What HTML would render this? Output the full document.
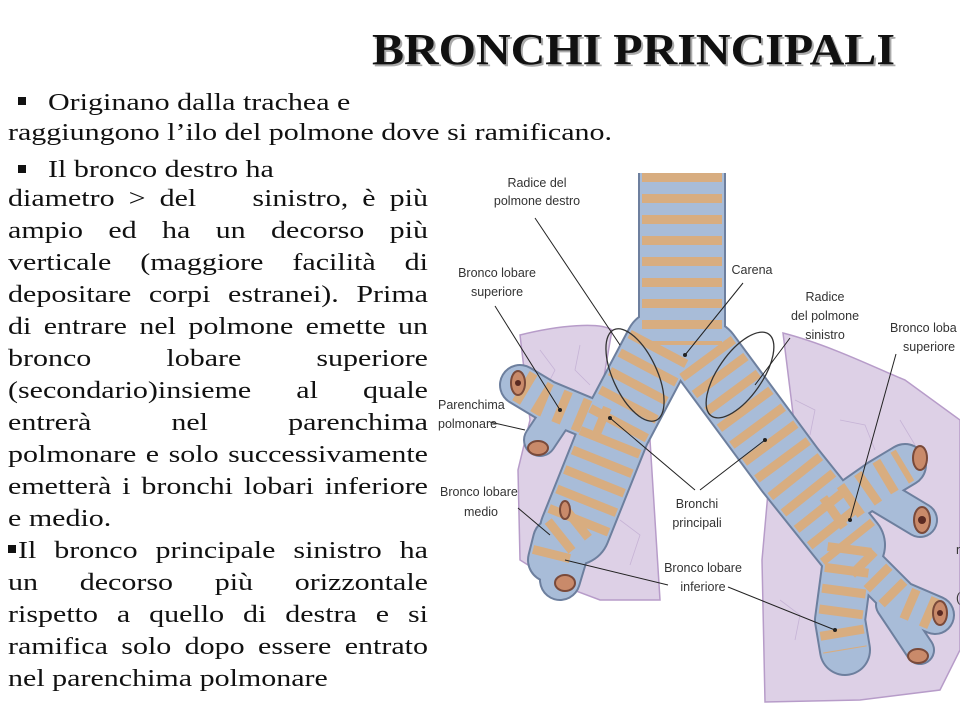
<!DOCTYPE html>
<html><head><meta charset="utf-8"><style>
html,body{margin:0;padding:0;background:#fff;}
svg{display:block;position:absolute;left:0;top:0;}
.l{font-family:"Liberation Sans",sans-serif;font-size:12.5px;fill:#333;}
.ln{position:absolute;left:8px;width:336px;font-family:"Liberation Serif",serif;font-size:24px;line-height:24px;color:#111;white-space:nowrap;text-align:justify;text-align-last:justify;transform:scaleX(1.25);transform-origin:0 0;}
.nj{text-align:left;text-align-last:left;}
.sq{position:absolute;width:8px;height:8px;background:#111;}
</style></head><body>
<svg width="960" height="720" viewBox="0 0 960 720" xmlns="http://www.w3.org/2000/svg">
<text x="374" y="66" textLength="523" lengthAdjust="spacingAndGlyphs" font-family="Liberation Serif,serif" font-weight="bold" font-size="44" fill="#aaa">BRONCHI PRINCIPALI</text>
<text x="372" y="64" textLength="523" lengthAdjust="spacingAndGlyphs" font-family="Liberation Serif,serif" font-weight="bold" font-size="44" fill="#111">BRONCHI PRINCIPALI</text>

<g fill="#ddd0e6" stroke="#b79cc9" stroke-width="1.5">
<path d="M520,335 C560,325 600,322 612,330 L600,400 L650,440 L660,600 L600,600 L560,585 L520,560 L518,470 L530,420 Z"/>
<path d="M783,333 C830,345 880,370 905,380 L960,420 L960,650 L940,690 L860,700 L765,702 L762,560 L770,470 L800,470 Z"/>
</g>
<g fill="none" stroke="#c6b3d6" stroke-width="0.8">
<path d="M540,350 l15,20 l-10,20 M580,345 l-5,25 l15,15 M795,400 l20,10 l-5,25 M840,420 l25,5 l10,25 M900,420 l15,25 M780,600 l20,15 l-5,25 M620,520 l20,15 l-10,30"/>
</g>

<g fill="none" stroke-linecap="round" stroke-linejoin="round">
<g stroke="#6d7f9e">
<path d="M682,173 L682,345" stroke-width="88" stroke-linecap="butt"/>
<path d="M660,345 L615,430 L575,530" stroke-width="72"/>
<path d="M705,355 L790,470 L850,545" stroke-width="72"/>
<path d="M605,425 L545,400 L520,385" stroke-width="42"/>
<path d="M560,410 L540,440" stroke-width="34"/>
<path d="M580,520 L555,540 L550,560" stroke-width="46"/>
<path d="M575,530 L560,580" stroke-width="42"/>
<path d="M830,515 L880,480 L905,465" stroke-width="44"/>
<path d="M870,490 L920,520" stroke-width="36"/>
<path d="M850,545 L840,620 L845,650" stroke-width="52"/>
<path d="M860,560 L900,600 L935,615" stroke-width="40"/>
<path d="M890,605 L920,650" stroke-width="30"/>
</g>
<g stroke="#a8bcd8">
<path d="M682,173 L682,345" stroke-width="84" stroke-linecap="butt"/>
<path d="M660,345 L615,430 L575,530" stroke-width="68"/>
<path d="M705,355 L790,470 L850,545" stroke-width="68"/>
<path d="M605,425 L545,400 L520,385" stroke-width="38"/>
<path d="M560,410 L540,440" stroke-width="30"/>
<path d="M580,520 L555,540 L550,560" stroke-width="42"/>
<path d="M575,530 L560,580" stroke-width="38"/>
<path d="M830,515 L880,480 L905,465" stroke-width="40"/>
<path d="M870,490 L920,520" stroke-width="32"/>
<path d="M850,545 L840,620 L845,650" stroke-width="48"/>
<path d="M860,560 L900,600 L935,615" stroke-width="36"/>
<path d="M890,605 L920,650" stroke-width="26"/>
</g>
<g stroke="#d8ad80" stroke-dasharray="9 12" stroke-linecap="butt">
<path d="M682,173 L682,345" stroke-width="80"/>
<path d="M660,345 L615,430 L575,530" stroke-width="64"/>
<path d="M705,355 L790,470 L850,545" stroke-width="64"/>
<path d="M605,425 L545,400 L520,385" stroke-width="34"/>
<path d="M580,520 L555,540 L550,560" stroke-width="38"/>
<path d="M830,515 L880,480 L905,465" stroke-width="36"/>
<path d="M850,545 L840,620 L845,650" stroke-width="44"/>
<path d="M860,560 L900,600 L935,615" stroke-width="32"/>
</g>
</g>
<g fill="#c98a6a" stroke="#7a4a3a" stroke-width="2">
<ellipse cx="518" cy="383" rx="7" ry="12"/>
<ellipse cx="538" cy="448" rx="10" ry="7"/>
<ellipse cx="565" cy="583" rx="10" ry="8"/>
<ellipse cx="565" cy="510" rx="5" ry="9"/>
<ellipse cx="920" cy="458" rx="7" ry="12"/>
<ellipse cx="922" cy="520" rx="8" ry="13"/>
<ellipse cx="940" cy="613" rx="7" ry="12"/>
<ellipse cx="918" cy="656" rx="10" ry="7"/>
</g>
<g fill="#5a2a22"><circle cx="518" cy="383" r="3"/><circle cx="922" cy="520" r="4"/><circle cx="940" cy="613" r="3"/></g>

<g fill="none" stroke="#333" stroke-width="1.3">
<ellipse cx="635" cy="375" rx="22" ry="50" transform="rotate(-25 635 375)"/>
<ellipse cx="740" cy="375" rx="22" ry="50" transform="rotate(35 740 375)"/>
</g>

<g stroke="#222" stroke-width="1" fill="none">
<path d="M535,218 L620,345"/>
<path d="M495,306 L560,410"/>
<path d="M743,283 L685,355"/>
<path d="M790,338 L755,385"/>
<path d="M896,354 L850,520"/>
<path d="M490,422 L525,430"/>
<path d="M518,508 L550,535"/>
<path d="M695,490 L610,418 M700,490 L765,440"/>
<path d="M668,585 L565,560 M728,587 L835,630"/>
</g>
<g fill="#222"><circle cx="685" cy="355" r="2"/><circle cx="610" cy="418" r="2"/><circle cx="765" cy="440" r="2"/><circle cx="850" cy="520" r="2"/><circle cx="835" cy="630" r="2"/><circle cx="560" cy="410" r="2"/></g>

<g class="l" text-anchor="middle">
<text x="537" y="187">Radice del</text>
<text x="537" y="205">polmone destro</text>
<text x="497" y="277">Bronco lobare</text>
<text x="497" y="296">superiore</text>
<text x="752" y="274">Carena</text>
<text x="825" y="301">Radice</text>
<text x="825" y="320">del polmone</text>
<text x="825" y="339">sinistro</text>
<text x="697" y="508">Bronchi</text>
<text x="697" y="527">principali</text>
<text x="703" y="572">Bronco lobare</text>
<text x="703" y="591">inferiore</text>
<text x="481" y="516">medio</text>
</g>
<g class="l">
<text x="890" y="332">Bronco loba</text>
<text x="903" y="351">superiore</text>
<text x="438" y="409">Parenchima</text>
<text x="438" y="428">polmonare</text>
<text x="440" y="496">Bronco lobare</text>
<text x="956" y="554">n</text>
<text x="956" y="602">(</text>
</g>
</svg>

<div class="sq" style="left:18px;top:97px"></div>
<div class="ln nj" style="left:48px;top:91px">Originano dalla trachea e</div>
<div class="ln nj" style="top:121px;width:530px">raggiungono l’ilo del polmone dove si ramificano.</div>
<div class="sq" style="left:18px;top:165px"></div>
<div class="ln nj" style="left:48px;top:158px">Il bronco destro ha</div>
<div class="ln" style="top:187px">diametro &gt; del&nbsp;&nbsp;&nbsp; sinistro, è più</div>
<div class="ln" style="top:219px">ampio ed ha un decorso più</div>
<div class="ln" style="top:251px">verticale (maggiore facilità di</div>
<div class="ln" style="top:283px">depositare corpi estranei). Prima</div>
<div class="ln" style="top:315px">di entrare nel polmone emette un</div>
<div class="ln" style="top:347px">bronco lobare superiore</div>
<div class="ln" style="top:379px">(secondario)insieme al quale</div>
<div class="ln" style="top:411px">entrerà nel parenchima</div>
<div class="ln" style="top:443px">polmonare e solo successivamente</div>
<div class="ln" style="top:475px">emetterà i bronchi lobari inferiore</div>
<div class="ln nj" style="top:507px">e medio.</div>
<div class="sq" style="left:8px;top:545px"></div>
<div class="ln" style="left:18px;width:328px;top:539px">Il bronco principale sinistro ha</div>
<div class="ln" style="top:571px">un decorso più orizzontale</div>
<div class="ln" style="top:603px">rispetto a quello di destra e si</div>
<div class="ln" style="top:635px">ramifica solo dopo essere entrato</div>
<div class="ln nj" style="top:667px">nel parenchima polmonare</div>
</body></html>
